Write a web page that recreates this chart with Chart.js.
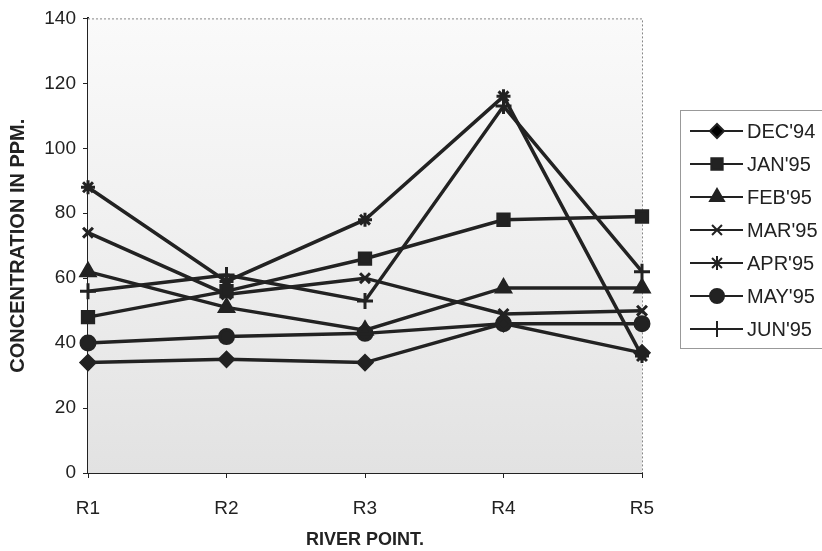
<!DOCTYPE html>
<html lang="en">
<head>
  <meta charset="UTF-8" />
  <title>Concentration by River Point</title>
  <script src="https://cdn.jsdelivr.net/npm/chart.js"></script>
  <style>
    html, body { margin: 0; padding: 0; background: #fff; }
    canvas { display: block; }
  </style>
</head>
<body>
  <canvas id="chart" width="822" height="551"></canvas>

  <script>
    // Data
    const riverPoints = ["R1", "R2", "R3", "R4", "R5"];
    const months = ["DEC'94", "JAN'95", "FEB'95", "MAR'95", "APR'95", "MAY'95", "JUN'95"];
    const dec94 = [34, 35, 34, 46, 37];
    const jan95 = [48, 56, 66, 78, 79];
    const feb95 = [62, 51, 44, 57, 57];
    const mar95 = [74, 55, 60, 49, 50];
    const apr95 = [88, 59, 78, 116, 36];
    const may95 = [40, 42, 43, 46, 46];
    const jun95 = [56, 61, 53, 113, 62];
    const yTicks = [0, 20, 40, 60, 80, 100, 120, 140];

    const seriesValues = [dec94, jan95, feb95, mar95, apr95, may95, jun95];
    const markers = ["rectRot", "rect", "triangle", "crossRot", "star", "circle", "cross"];
    const markerSize = [7, 8, 8, 7, 7, 7, 8];
    const ink = "#222";
    const font = "'Liberation Sans', Arial, sans-serif";

    // plot background, dotted top/right frame, and the legend box
    const decor = {
      id: "decor",
      beforeDatasetsDraw(chart) {
        const { ctx, chartArea: a } = chart;
        ctx.save();
        const g = ctx.createLinearGradient(0, a.top, 0, a.bottom);
        g.addColorStop(0, "#fafafa");
        g.addColorStop(0.5, "#efefef");
        g.addColorStop(1, "#e2e2e2");
        ctx.fillStyle = g;
        ctx.fillRect(a.left, a.top, a.right - a.left, a.bottom - a.top);
        ctx.strokeStyle = "#888";
        ctx.lineWidth = 1;
        ctx.setLineDash([2, 2]);
        ctx.beginPath();
        ctx.moveTo(a.left, a.top + 0.5);
        ctx.lineTo(a.right + 0.5, a.top + 0.5);
        ctx.lineTo(a.right + 0.5, a.bottom);
        ctx.stroke();
        ctx.restore();
      },
      afterDraw(chart) {
        const { ctx } = chart;
        ctx.save();
        ctx.strokeStyle = "#999";
        ctx.lineWidth = 1;
        ctx.strokeRect(680.5, 110.5, 160, 238);
        chart.data.datasets.forEach((ds, i) => {
          const y = 131 + i * 33;
          ctx.strokeStyle = ink;
          ctx.lineWidth = 2;
          ctx.beginPath();
          ctx.moveTo(690, y);
          ctx.lineTo(743, y);
          ctx.stroke();
          Chart.helpers.drawPoint(ctx, {
            pointStyle: ds.pointStyle,
            radius: ds.pointRadius,
            rotation: 0,
            borderWidth: ds.pointBorderWidth
          }, 717, y);
          ctx.fillStyle = ink;
          ctx.font = "20px " + font;
          ctx.textBaseline = "middle";
          ctx.textAlign = "left";
          ctx.fillText(ds.label, 747, y + 1);
        });
        ctx.restore();
      }
    };

    new Chart(document.getElementById("chart"), {
      type: "line",
      data: {
        labels: riverPoints,
        datasets: months.map((m, i) => ({
          label: m,
          data: seriesValues[i],
          borderColor: ink,
          backgroundColor: ink,
          borderWidth: 3.5,
          pointStyle: markers[i],
          pointRadius: markerSize[i],
          pointBorderColor: ink,
          pointBackgroundColor: ink,
          pointBorderWidth: 3,
          tension: 0,
          fill: false
        }))
      },
      options: {
        responsive: false,
        animation: false,
        layout: { padding: { top: 18, right: 180, left: 0, bottom: 0 } },
        plugins: {
          legend: { display: false },
          tooltip: { enabled: false }
        },
        scales: {
          x: {
            offset: false,
            grid: { drawOnChartArea: false, color: ink, tickLength: 5 },
            border: { color: ink, width: 2 },
            ticks: { color: ink, font: { family: font, size: 19 }, padding: 19, maxRotation: 0 },
            title: {
              display: true,
              text: "RIVER POINT.",
              color: ink,
              font: { family: font, size: 18, weight: "bold" },
              padding: { top: 8, bottom: 0 }
            },
            afterFit(scale) { scale.height = 78; }
          },
          y: {
            min: 0,
            max: 140,
            afterBuildTicks(scale) { scale.ticks = yTicks.map(v => ({ value: v })); },
            grid: { drawOnChartArea: false, color: ink, tickLength: 5 },
            border: { color: ink, width: 2 },
            ticks: { color: ink, font: { family: font, size: 19 }, padding: 7 },
            title: {
              display: true,
              text: "CONCENTRATION IN PPM.",
              color: ink,
              font: { family: font, size: 20, weight: "bold" },
              padding: { top: 6, bottom: 2 }
            },
            afterFit(scale) { scale.width = 88; }
          }
        }
      },
      plugins: [decor]
    });
  </script>
</body>
</html>
